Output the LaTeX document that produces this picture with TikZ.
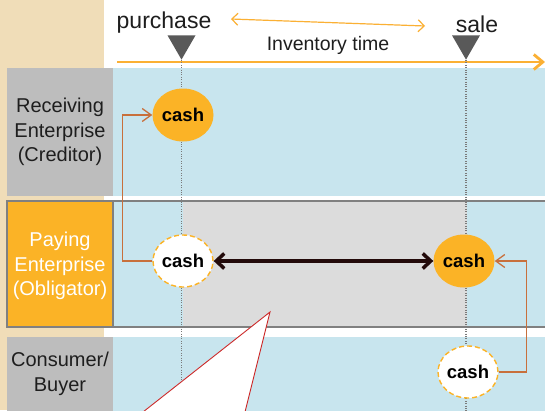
\documentclass[tikz,border=0pt]{standalone}
\usepackage{fontspec}
\setmainfont{Liberation Sans}
\usetikzlibrary{shapes.geometric,arrows.meta}
\definecolor{beige}{HTML}{F0DDB8}
\definecolor{lblue}{HTML}{C8E5EE}
\definecolor{lgray}{HTML}{BDBDBD}
\definecolor{mgray}{HTML}{DCDCDC}
\definecolor{bgray}{HTML}{808080}
\definecolor{orng}{HTML}{FBB326}
\definecolor{oline}{HTML}{FBB034}
\definecolor{dtri}{HTML}{595959}
\definecolor{brn}{HTML}{C8703C}
\definecolor{blk}{HTML}{230A0A}
\definecolor{txt}{HTML}{1E1E1E}
\definecolor{callred}{HTML}{CC2A2A}
\tikzset{
  cashfull/.style={ellipse,fill=orng,minimum width=61pt,minimum height=53pt,inner sep=0pt,font=\fontsize{18.5}{20}\selectfont\bfseries,text=black},
  cashempty/.style={ellipse,fill=white,draw=orng,dashed,dash pattern=on 5pt off 3pt,line width=1.4pt,minimum width=60pt,minimum height=52pt,inner sep=0pt,font=\fontsize{18.5}{20}\selectfont\bfseries,text=black},
  rowlabel/.style={align=center,font=\fontsize{20}{24.5}\selectfont,text=txt},
  connector/.style={draw=brn,line width=1.3pt,-{Straight Barb[length=9pt,width=13pt]}},
  vdot/.style={draw=dtri!80,line width=1.1pt,dash pattern=on 1pt off 1.4pt},
}
\begin{document}
\begin{tikzpicture}[x=1pt,y=-1pt]
\useasboundingbox (0,0) rectangle (545,410);
% backgrounds
\fill[white] (0,0) rectangle (545,410);
\fill[beige] (0,0) rectangle (104,410);
% row 1
\fill[lgray] (7,68) rectangle (113,196);
\fill[lblue] (113,68) rectangle (545,196);
% row 2
\fill[orng] (7,201) rectangle (112.5,327);
\fill[lblue] (112.5,201) rectangle (545,327);
\fill[mgray] (183,201) rectangle (467,327);
\draw[bgray,line width=2.5pt] (7,201) rectangle (549,327);
\draw[bgray,line width=2pt] (112.5,201) -- (112.5,327);
% row 3
\fill[lgray] (7,337) rectangle (113,412);
\fill[lblue] (113,337) rectangle (545,412);
% timeline
\coordinate (tlstart) at (117,62);
\coordinate (tlend) at (545,62);
\draw[oline,line width=2.8pt,-{Straight Barb[length=9pt,width=15pt]}] (tlstart) -- (tlend);
\node[isosceles triangle,shape border rotate=-90,isosceles triangle apex angle=60,fill=dtri,minimum width=28pt,minimum height=14pt,inner sep=0pt,anchor=apex] (tri1) at (181.5,60) {};
\node[isosceles triangle,shape border rotate=-90,isosceles triangle apex angle=60,fill=dtri,minimum width=28pt,minimum height=14pt,inner sep=0pt,anchor=apex] (tri2) at (466,60) {};
\coordinate (d1b) at (181.5,412);
\coordinate (d2b) at (466,412);
\draw[vdot] (tri1.apex) -- (d1b);
\draw[vdot] (tri2.apex) -- (d2b);
% top labels
\node[anchor=base,font=\fontsize{23}{26}\selectfont,text=txt] (purchase) at (164,28) {purchase};
\node[anchor=base,font=\fontsize{23}{26}\selectfont,text=txt] (sale) at (477,32) {sale};
\node[anchor=base,font=\fontsize{19.5}{22}\selectfont,text=txt] (invtime) at (328,50) {Inventory time};
\coordinate (ia) at (231,19);
\coordinate (ib) at (425,26);
\draw[oline,line width=1.2pt,{Straight Barb[length=6pt,width=12pt]}-{Straight Barb[length=6pt,width=12pt]}] (ia) -- (ib);
% row labels
\node[rowlabel] (recv) at (60,132) {Receiving\\Enterprise\\(Creditor)};
\node[rowlabel,text=white] (pay) at (60,266) {Paying\\Enterprise\\(Obligator)};
\node[rowlabel] (cons) at (60,374) {Consumer/\\Buyer};
% cash nodes
\node[cashfull] (c1) at (183,115) {cash};
\node[cashempty] (c2) at (183,261) {cash};
\node[cashfull] (c3) at (464,261) {cash};
\node[cashempty] (c4) at (468,372) {cash};
% connectors
\draw[blk,line width=3.5pt,{Straight Barb[length=8pt,width=15pt]}-{Straight Barb[length=8pt,width=15pt]}] (c2) -- (c3);
\draw[connector] (c2.west) -- ++(-30,0) |- (c1.west);
\draw[connector] (c4.east) -- ++(28,0) |- (c3.east);
% callout
\coordinate (ctip) at (270,312);
\coordinate (cl) at (143,412);
\coordinate (cr) at (245,412);
\draw[callred,fill=white,line width=0.9pt,line join=miter] (cl) -- (ctip) -- (cr);
\end{tikzpicture}
\end{document}
